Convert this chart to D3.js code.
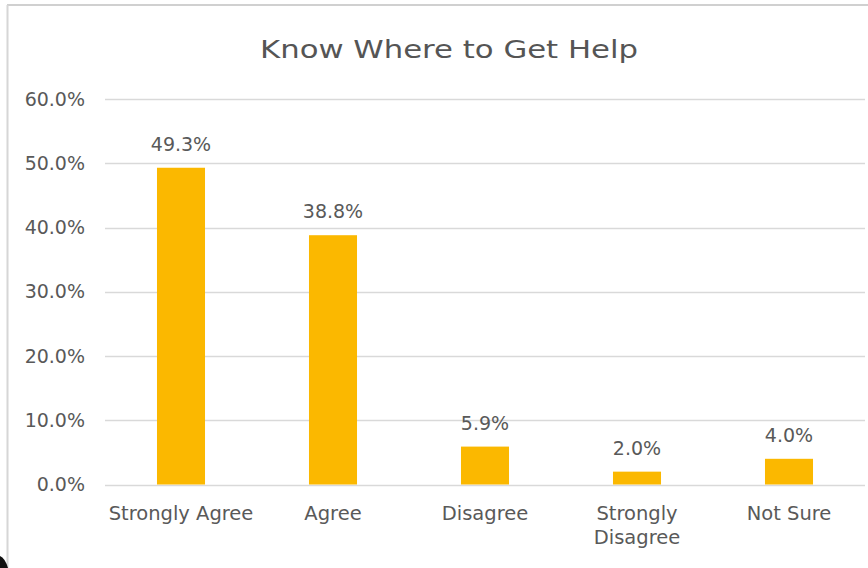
<!DOCTYPE html>
<html>
<head>
<meta charset="utf-8">
<script src="https://cdn.jsdelivr.net/npm/d3@7"></script>
<style>
  html, body { margin: 0; padding: 0; background: #fff; }
  svg { display: block; }
  text { font-family: "DejaVu Sans", Verdana, sans-serif; fill: #595959; }
</style>
</head>
<body>
<div id="chart"></div>
<script>
// --- Data ---
const categories = ['Strongly Agree', 'Agree', 'Disagree', 'Strongly Disagree', 'Not Sure'];
const values = [0.493, 0.388, 0.059, 0.020, 0.040];
const valueLabels = ['49.3%', '38.8%', '5.9%', '2.0%', '4.0%'];
const yTicks = [0, 0.1, 0.2, 0.3, 0.4, 0.5, 0.6];
const chartTitle = 'Know Where to Get Help';

// --- Setup ---
const width = 868;
const height = 568;
const margin = { top: 99, right: 3, bottom: 83.5, left: 105 };

const svg = d3.select('#chart')
  .append('svg')
  .attr('width', width)
  .attr('height', height);

// frame edges of the screenshot
svg.append('line')
  .attr('x1', 7).attr('x2', width).attr('y1', 5).attr('y2', 5)
  .attr('stroke', '#d0d0d0').attr('stroke-width', 2);
svg.append('line')
  .attr('x1', 7.5).attr('x2', 7.5).attr('y1', 5).attr('y2', height)
  .attr('stroke', '#d6d6d6').attr('stroke-width', 2);

const x = d3.scaleBand()
  .domain(categories)
  .range([margin.left, width - margin.right])
  .paddingInner(0.684)
  .paddingOuter(0.342);

const y = d3.scaleLinear()
  .domain([0, 0.6])
  .range([height - margin.bottom, margin.top]);

// --- Gridlines ---
svg.append('g')
  .selectAll('line')
  .data(yTicks)
  .join('line')
  .attr('x1', margin.left)
  .attr('x2', width - margin.right)
  .attr('y1', d => Math.round(y(d)) + 0.5)
  .attr('y2', d => Math.round(y(d)) + 0.5)
  .attr('stroke', '#d9d9d9')
  .attr('stroke-width', 1.5);

// --- Y axis labels ---
const yAxis = d3.axisLeft(y)
  .tickValues(yTicks)
  .tickFormat(d3.format('.1%'))
  .tickSize(0)
  .tickPadding(0);

svg.append('g')
  .attr('transform', 'translate(85,0)')
  .call(yAxis)
  .call(g => g.select('.domain').remove())
  .selectAll('text')
  .style('font-family', '"DejaVu Sans", Verdana, sans-serif')
  .style('font-size', '19px')
  .style('fill', '#595959');

// --- Bars ---
svg.append('g')
  .selectAll('rect')
  .data(values)
  .join('rect')
  .attr('x', (d, i) => x(categories[i]))
  .attr('width', x.bandwidth())
  .attr('y', d => y(d))
  .attr('height', d => y(0) - y(d))
  .attr('fill', '#FBB800');

// --- Value labels ---
svg.append('g')
  .selectAll('text')
  .data(values)
  .join('text')
  .attr('x', (d, i) => x(categories[i]) + x.bandwidth() / 2)
  .attr('y', d => y(d) - 17)
  .attr('text-anchor', 'middle')
  .style('font-size', '19px')
  .text((d, i) => valueLabels[i]);

// --- X axis labels (wrap the long one) ---
const xLabels = svg.append('g')
  .selectAll('text')
  .data(categories)
  .join('text')
  .attr('x', d => x(d) + x.bandwidth() / 2)
  .attr('y', 520)
  .attr('text-anchor', 'middle')
  .style('font-size', '19.5px');

xLabels.each(function(d) {
  const t = d3.select(this);
  const words = d === 'Strongly Disagree' ? d.split(' ') : [d];
  words.forEach((w, i) => {
    t.append('tspan')
      .attr('x', x(d) + x.bandwidth() / 2)
      .attr('dy', i === 0 ? 0 : 24)
      .text(w);
  });
});

// --- Title ---
svg.append('text')
  .attr('x', 449)
  .attr('y', 58)
  .attr('text-anchor', 'middle')
  .style('font-size', '25px')
  .style('fill', '#555')
  .attr('textLength', 378)
  .attr('lengthAdjust', 'spacingAndGlyphs')
  .text(chartTitle);

// small dark blob in the lower-left corner of the screenshot
svg.append('path')
  .attr('d', 'M0,556 Q5,558 8,568 L0,568 Z')
  .attr('fill', '#111');
</script>
</body>
</html>
